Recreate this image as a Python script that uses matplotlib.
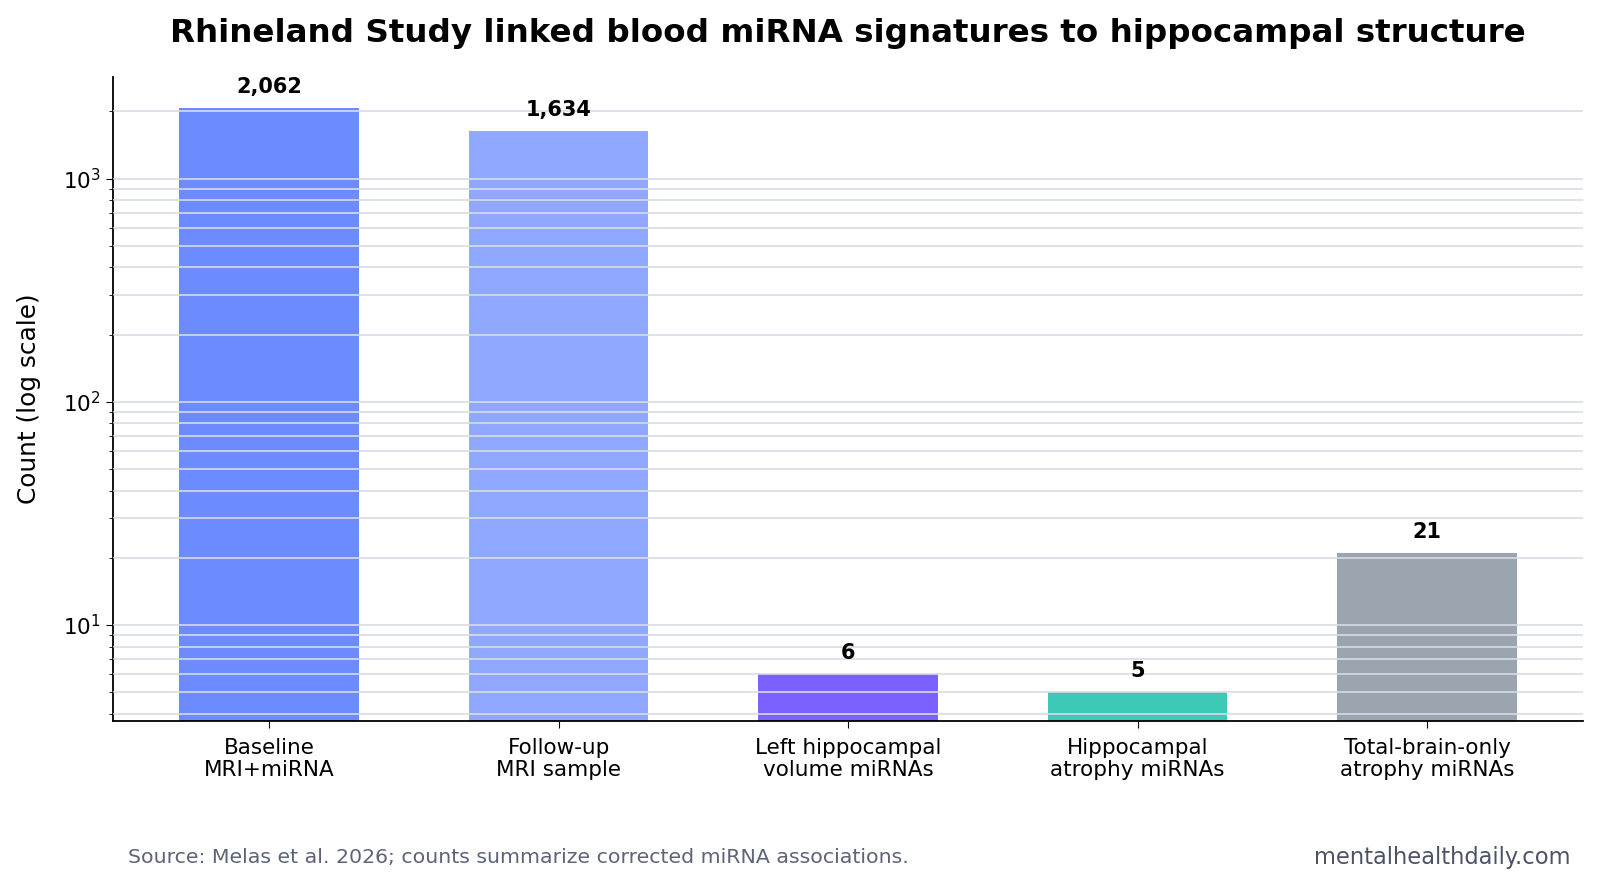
import matplotlib
matplotlib.use("Agg")
import matplotlib.pyplot as plt

categories = ["Baseline\nMRI+miRNA", "Follow-up\nMRI sample", "Left hippocampal\nvolume miRNAs",
              "Hippocampal\natrophy miRNAs", "Total-brain-only\natrophy miRNAs"]
values = [2062, 1634, 6, 5, 21]
labels = ["2,062", "1,634", "6", "5", "21"]
colors = ["#6b8bff", "#8fa7ff", "#7b61ff", "#3cc9b5", "#9aa5b0"]

fig = plt.figure(figsize=(16.01, 8.85), dpi=100)
ax = fig.add_axes([0.0705, 0.185, 0.9185, 0.728])

x = list(range(len(categories)))
ax.bar(x, values, width=0.62, color=colors, zorder=1)
ax.set_yscale("log")
ax.set_ylim(3.7, 2850)
ax.set_xlim(-0.54, 4.54)
ax.grid(True, which="both", axis="y", color="#d6dce6", linewidth=1.2, zorder=3)
ax.set_axisbelow(False)

for xi, v, lab in zip(x, values, labels):
    ax.annotate(lab, (xi, v), xytext=(0, 8), textcoords="offset points",
                ha="center", va="bottom", fontsize=15, fontweight="bold")

ax.set_xticks(x)
ax.set_xticklabels(categories, fontsize=15.5, linespacing=1.12)
ax.tick_params(axis="x", length=5, pad=7)
ax.tick_params(axis="y", labelsize=15.5, length=5)
ax.tick_params(axis="y", which="minor", length=3)
ax.set_ylabel("Count (log scale)", fontsize=17.8, labelpad=16)
for s in ["top", "right"]:
    ax.spines[s].set_visible(False)
for s in ["left", "bottom"]:
    ax.spines[s].set_linewidth(1.3)

fig.text(0.5295, 0.962, "Rhineland Study linked blood miRNA signatures to hippocampal structure",
         ha="center", va="center", fontsize=23.4, fontweight="bold")
fig.text(0.08, 0.031, "Source: Melas et al. 2026; counts summarize corrected miRNA associations.",
         ha="left", va="center", fontsize=14.75, color="#5b6577")
fig.text(0.981, 0.031, "mentalhealthdaily.com", ha="right", va="center", fontsize=16.3, color="#4b5466")

fig.savefig("out.png", dpi=100)
